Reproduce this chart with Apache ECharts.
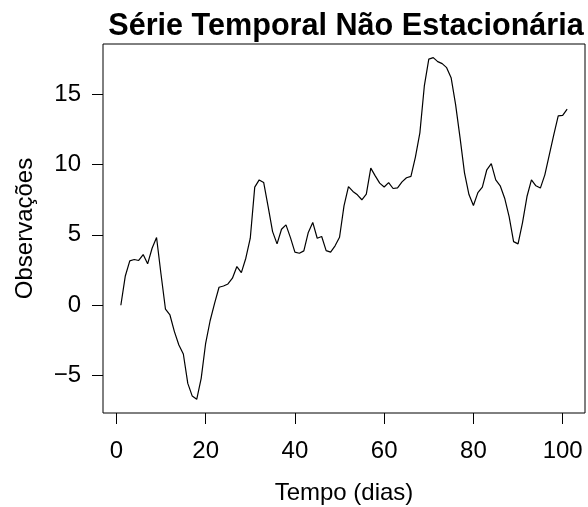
<!DOCTYPE html>
<html>
<head>
<meta charset="utf-8">
<script src="https://cdn.jsdelivr.net/npm/echarts@6/dist/echarts.min.js"></script>
<style>
  html, body { margin: 0; padding: 0; background: #fff; }
  #chart { width: 588px; height: 507px; }
</style>
</head>
<body>
<div id="chart"></div>
<script>
const days = [1, 2, 3, 4, 5, 6, 7, 8, 9, 10, 11, 12, 13, 14, 15, 16, 17, 18, 19, 20,
  21, 22, 23, 24, 25, 26, 27, 28, 29, 30, 31, 32, 33, 34, 35, 36, 37, 38, 39, 40,
  41, 42, 43, 44, 45, 46, 47, 48, 49, 50, 51, 52, 53, 54, 55, 56, 57, 58, 59, 60,
  61, 62, 63, 64, 65, 66, 67, 68, 69, 70, 71, 72, 73, 74, 75, 76, 77, 78, 79, 80,
  81, 82, 83, 84, 85, 86, 87, 88, 89, 90, 91, 92, 93, 94, 95, 96, 97, 98, 99, 100, 101];

const observacoes = [0, 2.08, 3.15, 3.25, 3.18, 3.6, 2.94, 4.05, 4.81, 2.2,
  -0.28, -0.69, -1.87, -2.82, -3.46, -5.55, -6.45, -6.68, -5.19, -2.7,
  -1.1, 0.14, 1.28, 1.37, 1.51, 1.92, 2.75, 2.32, 3.34, 4.76,
  8.39, 8.9, 8.72, 7.0, 5.23, 4.36, 5.4, 5.71, 4.8, 3.77,
  3.69, 3.86, 5.17, 5.88, 4.76, 4.88, 3.88, 3.77, 4.22, 4.83,
  7.06, 8.43, 8.08, 7.84, 7.49, 7.89, 9.74, 9.19, 8.67, 8.4,
  8.71, 8.29, 8.34, 8.76, 9.05, 9.15, 10.52, 12.24, 15.57, 17.48,
  17.58, 17.3, 17.16, 16.87, 16.16, 14.26, 11.9, 9.4, 7.86, 7.08,
  8.0, 8.39, 9.62, 10.05, 8.9, 8.48, 7.6, 6.3, 4.52, 4.36,
  5.87, 7.72, 8.9, 8.48, 8.32, 9.26, 10.68, 12.1, 13.45, 13.48, 13.93];

const xTicks = [0, 20, 40, 60, 80, 100];
const yTicks = [-5, 0, 5, 10, 15];

const fontFamily = '"Liberation Sans", Arial, sans-serif';

const initChart = function () {
  const myChart = echarts.init(document.getElementById('chart'));

  let option = {
    animation: false,
    title: {
      text: 'Série Temporal Não Estacionária',
      left: 341,
      top: 6,
      textAlign: 'center',
      textStyle: {
        fontFamily: fontFamily,
        fontWeight: 'bold',
        fontSize: 30.6,
        color: '#000'
      }
    },
    grid: {
      left: 103,
      right: 3,
      top: 44,
      bottom: 94,
      outerBoundsMode: 'none',
      show: true,
      borderColor: '#000',
      borderWidth: 1
    },
    xAxis: {
      type: 'value',
      min: -3,
      max: 105,
      name: 'Tempo (dias)',
      nameLocation: 'middle',
      nameGap: 68,
      nameTextStyle: { fontFamily: fontFamily, fontSize: 24, color: '#000' },
      axisLine: { show: false, onZero: false },
      splitLine: { show: false },
      axisTick: {
        show: true,
        inside: false,
        length: 11,
        customValues: xTicks,
        lineStyle: { color: '#000' }
      },
      axisLabel: {
        customValues: xTicks,
        margin: 26,
        fontFamily: fontFamily,
        fontSize: 24,
        color: '#000'
      }
    },
    yAxis: {
      type: 'value',
      min: -7.65,
      max: 18.55,
      name: 'Observações',
      nameLocation: 'middle',
      nameRotate: 90,
      nameGap: 66,
      nameTextStyle: { fontFamily: fontFamily, fontSize: 24, color: '#000' },
      axisLine: { show: false, onZero: false },
      splitLine: { show: false },
      axisTick: {
        show: true,
        inside: false,
        length: 11,
        customValues: yTicks,
        lineStyle: { color: '#000' }
      },
      axisLabel: {
        customValues: yTicks,
        margin: 22,
        fontFamily: fontFamily,
        fontSize: 24,
        color: '#000',
        formatter: function (value) {
          return String(value).replace('-', '\u2212');
        }
      }
    },
    series: [
      {
        type: 'line',
        data: days.map((d, i) => [d, observacoes[i]]),
        showSymbol: false,
        lineStyle: { color: '#000', width: 1.2 }
      }
    ]
  };

  myChart.setOption(option);
};

window.addEventListener('load', function () {
  initChart();
});
</script>
</body>
</html>
